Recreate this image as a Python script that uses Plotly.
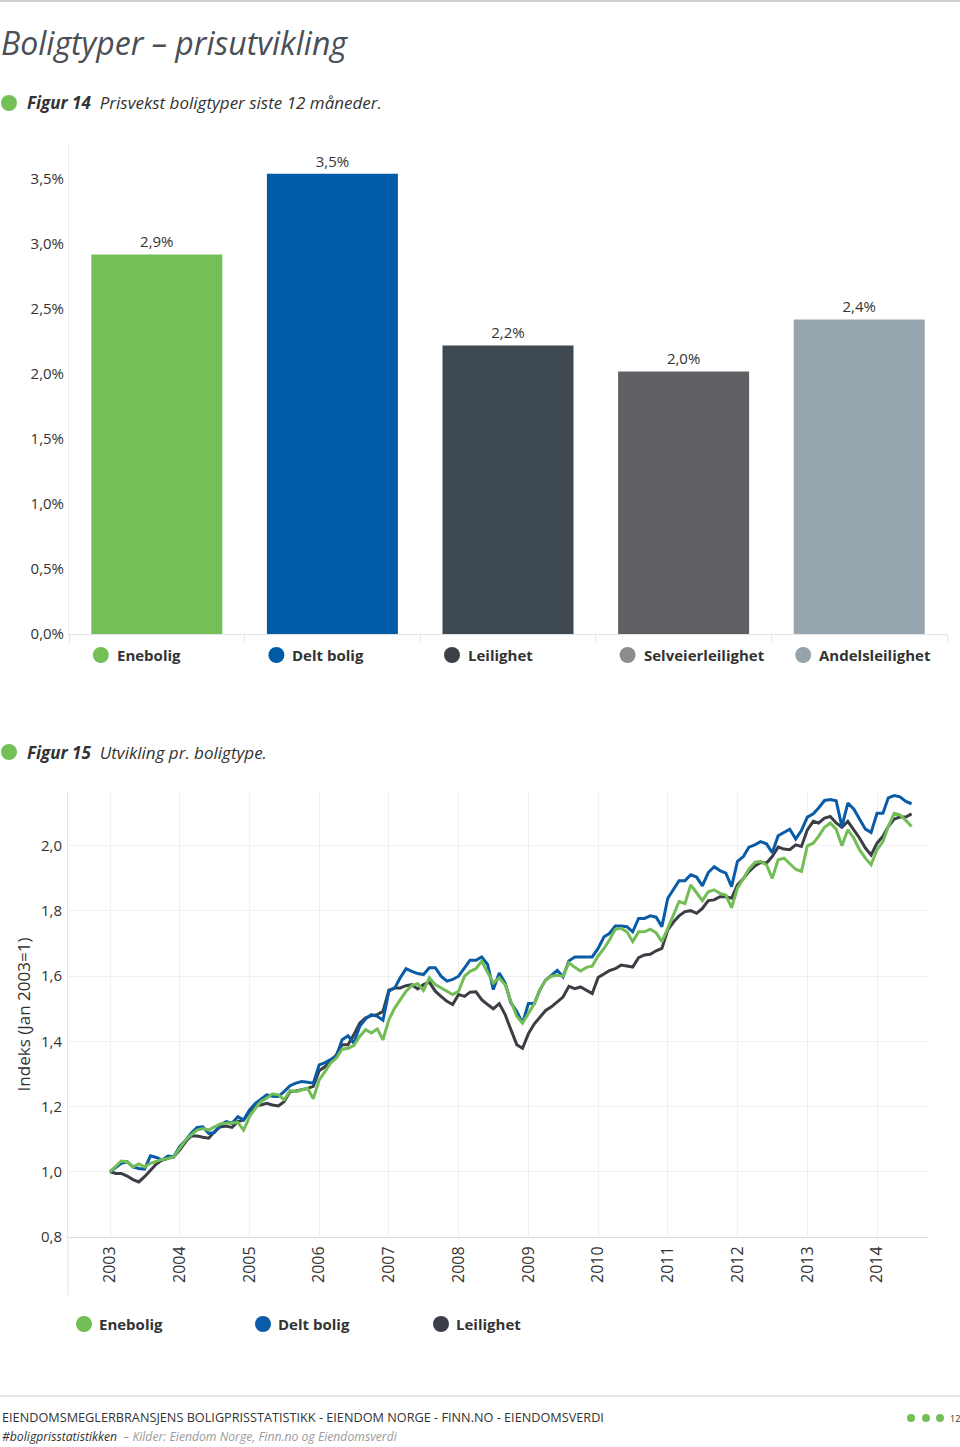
import plotly.graph_objects as go
import pandas as pd

W, H = 960, 1447          # reference picture size (layout coordinates below are in these pixels)
H_PAGE = 1456             # rendered page height; the photo is squeezed back to 1447

# ---------------- data: Figur 14 ----------------
bar_categories = ["Enebolig", "Delt bolig", "Leilighet", "Selveierleilighet", "Andelsleilighet"]
bar_values = [2.92, 3.54, 2.22, 2.02, 2.42]
bar_colors = ["#74bf56", "#005ca6", "#3e4951", "#5f6064", "#97a5ae"]
bar_legend_colors = ["#74bf56", "#005ca6", "#3c4147", "#8c8c8c", "#97a3ab"]
bar_ticks = [0, 0.5, 1.0, 1.5, 2.0, 2.5, 3.0, 3.5]

# ---------------- data: Figur 15 (monthly index, Jan 2003 = 1) ----------------
start_month = "2003-01-01"
enebolig = [
    1.000, 1.017, 1.033, 1.031, 1.015, 1.024, 1.015, 1.026, 1.033, 1.038, 1.041, 1.046,
    1.072, 1.097, 1.113, 1.128, 1.133, 1.128, 1.138, 1.147, 1.149, 1.149, 1.151, 1.128,
    1.169, 1.195, 1.215, 1.226, 1.239, 1.236, 1.221, 1.249, 1.246, 1.251, 1.256, 1.224,
    1.282, 1.308, 1.333, 1.349, 1.376, 1.379, 1.387, 1.415, 1.436, 1.426, 1.438, 1.405,
    1.467, 1.503, 1.528, 1.554, 1.571, 1.577, 1.556, 1.595, 1.574, 1.564, 1.554, 1.544,
    1.554, 1.600, 1.615, 1.623, 1.646, 1.610, 1.579, 1.595, 1.574, 1.523, 1.477, 1.456,
    1.485, 1.516, 1.557, 1.588, 1.600, 1.603, 1.600, 1.641, 1.627, 1.616, 1.627, 1.631,
    1.662, 1.685, 1.711, 1.744, 1.747, 1.736, 1.706, 1.736, 1.736, 1.744, 1.733, 1.706,
    1.747, 1.793, 1.829, 1.823, 1.880, 1.856, 1.832, 1.859, 1.865, 1.854, 1.849, 1.810,
    1.870, 1.900, 1.928, 1.949, 1.952, 1.942, 1.900, 1.957, 1.962, 1.945, 1.928, 1.921,
    2.000, 2.008, 2.029, 2.057, 2.070, 2.051, 2.000, 2.049, 2.024, 1.988, 1.962, 1.942,
    1.988, 2.013, 2.059, 2.100, 2.095, 2.078, 2.059,
]
delt_bolig = [
    1.000, 1.015, 1.026, 1.031, 1.015, 1.010, 1.008, 1.049, 1.044, 1.036, 1.048, 1.046,
    1.077, 1.097, 1.118, 1.136, 1.138, 1.118, 1.120, 1.144, 1.154, 1.149, 1.169, 1.159,
    1.190, 1.210, 1.223, 1.236, 1.232, 1.231, 1.246, 1.264, 1.272, 1.277, 1.275, 1.272,
    1.328, 1.335, 1.344, 1.356, 1.405, 1.417, 1.395, 1.446, 1.469, 1.482, 1.477, 1.465,
    1.554, 1.564, 1.595, 1.623, 1.615, 1.608, 1.605, 1.626, 1.626, 1.600, 1.585, 1.590,
    1.600, 1.626, 1.649, 1.649, 1.659, 1.636, 1.559, 1.610, 1.579, 1.518, 1.492, 1.456,
    1.516, 1.516, 1.557, 1.588, 1.603, 1.618, 1.598, 1.647, 1.659, 1.659, 1.659, 1.659,
    1.685, 1.721, 1.731, 1.754, 1.754, 1.752, 1.736, 1.777, 1.777, 1.785, 1.781, 1.752,
    1.839, 1.867, 1.893, 1.893, 1.911, 1.904, 1.877, 1.918, 1.936, 1.924, 1.916, 1.875,
    1.952, 1.967, 1.996, 2.003, 2.013, 2.006, 1.979, 2.031, 2.041, 2.051, 2.021, 2.047,
    2.088, 2.098, 2.116, 2.139, 2.142, 2.138, 2.059, 2.131, 2.113, 2.082, 2.051, 2.041,
    2.100, 2.100, 2.147, 2.154, 2.150, 2.136, 2.129,
]
leilighet = [
    1.000, 0.995, 0.995, 0.987, 0.976, 0.969, 0.985, 1.003, 1.024, 1.036, 1.041, 1.046,
    1.067, 1.092, 1.110, 1.110, 1.106, 1.103, 1.123, 1.138, 1.140, 1.136, 1.154, 1.159,
    1.185, 1.202, 1.205, 1.210, 1.205, 1.202, 1.215, 1.246, 1.248, 1.251, 1.256, 1.262,
    1.310, 1.323, 1.338, 1.359, 1.390, 1.390, 1.420, 1.456, 1.472, 1.479, 1.482, 1.492,
    1.557, 1.564, 1.564, 1.571, 1.574, 1.561, 1.574, 1.582, 1.554, 1.538, 1.523, 1.513,
    1.544, 1.538, 1.551, 1.552, 1.528, 1.513, 1.500, 1.516, 1.482, 1.436, 1.390, 1.379,
    1.424, 1.454, 1.475, 1.495, 1.506, 1.521, 1.536, 1.569, 1.562, 1.567, 1.557, 1.547,
    1.596, 1.608, 1.617, 1.623, 1.634, 1.631, 1.628, 1.657, 1.665, 1.667, 1.678, 1.685,
    1.742, 1.767, 1.785, 1.798, 1.801, 1.793, 1.808, 1.832, 1.834, 1.844, 1.844, 1.839,
    1.880, 1.900, 1.921, 1.938, 1.949, 1.947, 1.967, 1.996, 1.990, 1.988, 2.003, 1.998,
    2.049, 2.075, 2.070, 2.085, 2.090, 2.070, 2.057, 2.075, 2.049, 2.024, 1.993, 1.972,
    2.008, 2.029, 2.059, 2.082, 2.088, 2.088, 2.098,
]
line_names = ["Enebolig", "Delt bolig", "Leilighet"]
line_colors = ["#72bd55", "#0a5ca6", "#3b3f45"]
line_ticks = [0.8, 1.0, 1.2, 1.4, 1.6, 1.8, 2.0]

months = pd.date_range(start_month, periods=len(enebolig), freq="MS")

FONT = "Open Sans"
TXT = "#333333"


def px(x):
    return x / W


def py(y):
    return 1 - y / H


def comma(v, suffix=""):
    return f"{v:.1f}".replace(".", ",") + suffix


fig = go.Figure()

# ---- lines (dark behind, then blue, green on top) ----
series = {"Enebolig": enebolig, "Delt bolig": delt_bolig, "Leilighet": leilighet}
for name in ["Leilighet", "Delt bolig", "Enebolig"]:
    col = line_colors[line_names.index(name)]
    fig.add_trace(go.Scatter(
        x=months, y=series[name], mode="lines", name=name,
        line=dict(color=col, width=3), xaxis="x2", yaxis="y2", showlegend=False,
    ))

# ---- bars ----
fig.add_trace(go.Bar(
    x=bar_categories, y=bar_values, marker=dict(color=bar_colors, line=dict(width=0)),
    width=0.746, text=[comma(v, "%") for v in bar_values], textposition="outside",
    cliponaxis=False, textfont=dict(size=15, color=TXT, family=FONT), xaxis="x", yaxis="y",
    showlegend=False, hoverinfo="skip",
))

annotations = []
shapes = []


def circle(cx, cy, r, color):
    shapes.append(dict(type="circle", xref="paper", yref="paper",
                       x0=px(cx - r), x1=px(cx + r), y0=py(cy + r), y1=py(cy - r),
                       fillcolor=color, line=dict(width=0)))


def text(x, y, s, size, color=TXT, anchor="left", family=FONT):
    annotations.append(dict(x=px(x), y=py(y), xref="paper", yref="paper", text=s,
                            showarrow=False, xanchor=anchor, yanchor="middle",
                            font=dict(size=size, color=color, family=family)))


# top rule
shapes.append(dict(type="line", xref="paper", yref="paper", x0=0, x1=1, y0=py(1), y1=py(1),
                   line=dict(color="#d2d2d2", width=2)))
# title
text(-1, 42, "<i>Boligtyper – prisutvikling</i>", 32, "#4a4f57")
# figure headers
circle(9, 103, 8, "#74bf56")
text(25, 103, "<b><i>Figur 14</i></b>  <i>Prisvekst boligtyper siste 12 måneder.</i>", 17)
circle(9, 752, 8, "#74bf56")
text(25, 752, "<b><i>Figur 15</i></b>  <i>Utvikling pr. boligtype.</i>", 17)

# bar legend
bar_left, bar_right = 69, 947
step = (bar_right - bar_left) / len(bar_categories)
for i, (cat, col) in enumerate(zip(bar_categories, bar_legend_colors)):
    c = bar_left + step * (i + 0.5)
    circle(c - 56, 655, 8, col)
    text(c - 42, 655, "<b>" + cat + "</b>", 15)

# line legend
for xc, name, col in zip([84, 263, 441], line_names, line_colors):
    circle(xc, 1324, 8, col)
    text(xc + 13, 1324, "<b>" + name + "</b>", 15)

# y axis extension below line chart
shapes.append(dict(type="line", xref="paper", yref="paper", x0=px(68), x1=px(68),
                   y0=py(1237), y1=py(1295), line=dict(color="#e3e3e3", width=1)))

# footer
shapes.append(dict(type="line", xref="paper", yref="paper", x0=0, x1=1, y0=py(1396), y1=py(1396),
                   line=dict(color="#cfcfcf", width=1)))
text(0, 1417, "EIENDOMSMEGLERBRANSJENS BOLIGPRISSTATISTIKK - EIENDOM NORGE - FINN.NO - EIENDOMSVERDI", 12.7)
text(0, 1436, "<i>#boligprisstatistikken</i>  <span style='color:#9a9a9a'><i>– Kilder: Eiendom Norge, Finn.no og Eiendomsverdi</i></span>", 12.2)
for xc in [911, 926, 940]:
    circle(xc, 1418, 4, "#74bf56")
text(948, 1418, "12", 9, anchor="left")

fig.update_layout(
    width=W, height=H_PAGE, margin=dict(l=0, r=0, t=0, b=0),
    paper_bgcolor="white", plot_bgcolor="white",
    separators=", ",
    font=dict(family=FONT, color=TXT),
    annotations=annotations, shapes=shapes,
    xaxis=dict(domain=[px(bar_left), px(bar_right)], anchor="y", type="category",
               showline=True, linecolor="#e3e3e3", linewidth=1,
               ticks="outside", tickson="boundaries", ticklen=8, tickcolor="#e3e3e3",
               showticklabels=False, showgrid=False, fixedrange=True),
    yaxis=dict(domain=[py(634), py(143)], anchor="x", range=[0, 3.777],
               tickmode="array", tickvals=bar_ticks, ticktext=[comma(v, "%") for v in bar_ticks],
               showgrid=False, zeroline=False, showline=True, linecolor="#ececec",
               tickfont=dict(size=15, color=TXT), ticks="", ticklabelstandoff=1),
    xaxis2=dict(domain=[px(68), px(928)], anchor="y2", type="date",
                range=["2002-05-26", "2014-09-25"], dtick="M12", tick0="2003-01-01",
                tickformat="%Y", tickangle=-90, showgrid=True, gridcolor="#f0f0f0",
                showline=True, linecolor="#dcdcdc", tickfont=dict(size=16, color=TXT),
                ticks="", ticklabelstandoff=2),
    yaxis2=dict(domain=[py(1237), py(792)], anchor="x2", range=[0.8, 2.165],
                tickmode="array", tickvals=line_ticks, ticktext=[comma(v) for v in line_ticks],
                showgrid=True, gridcolor="#f0f0f0",
                zeroline=False, showline=True, linecolor="#e6e6e6",
                tickfont=dict(size=15, color=TXT), ticks="", ticklabelstandoff=2,
                title=dict(text="Indeks (Jan 2003=1)", font=dict(size=17, color=TXT), standoff=6)),
)

post = (
    "document.documentElement.style.margin='0';"
    "document.body.style.margin='0';"
    "document.documentElement.style.overflow='hidden';"
    "document.body.style.overflow='hidden';"
    "var gd=document.getElementById('{plot_id}');"
    "gd.parentElement.style.lineHeight='0';"
)
fig.write_html("out.html", post_script=post, config={"displayModeBar": False})
